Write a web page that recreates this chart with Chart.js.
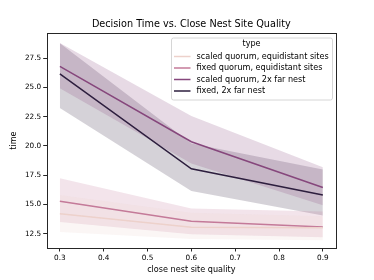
<!DOCTYPE html>
<html>
<head>
<meta charset="utf-8">
<script src="https://cdn.jsdelivr.net/npm/chart.js@4"></script>
<style>
  html, body { margin: 0; padding: 0; background: #fff; }
  #wrap { width: 374px; height: 280px; }
</style>
</head>
<body>
<div id="wrap"><canvas id="chart" width="374" height="280"></canvas></div>
<script>
// x values (close nest site quality)
const quality = [0.3, 0.6, 0.9]
const xTicks = [0.3, 0.4, 0.5, 0.6, 0.7, 0.8, 0.9]
const yTicks = [12.5, 15.0, 17.5, 20.0, 22.5, 25.0, 27.5]

const seriesNames = [
  "scaled quorum, equidistant sites",
  "fixed quorum, equidistant sites",
  "scaled quorum, 2x far nest",
  "fixed, 2x far nest",
]

// mean decision time and confidence band, per series
const scaledEquiMean = [14.2, 13.05, 13.0]
const scaledEquiLow = [12.65, 12.05, 11.95]
const scaledEquiHigh = [15.8, 14.3, 14.0]

const fixedEquiMean = [15.28, 13.57, 13.08]
const fixedEquiLow = [13.5, 12.45, 12.2]
const fixedEquiHigh = [17.25, 14.65, 14.4]

const scaledFarMean = [26.8, 20.36, 16.45]
const scaledFarLow = [24.93, 18.5, 14.94]
const scaledFarHigh = [28.8, 22.55, 18.17]

const fixedFarMean = [26.16, 18.05, 15.8]
const fixedFarLow = [23.25, 16.15, 14.05]
const fixedFarHigh = [28.78, 20.2, 17.98]

const colors = ["#edd1cb", "#c47a99", "#86477c", "#2d1e3e"]
const bandColors = [
  "rgba(237, 209, 203, 0.2)",
  "rgba(196, 122, 153, 0.2)",
  "rgba(134, 71, 124, 0.2)",
  "rgba(45, 30, 62, 0.2)",
]

const allSeries = [
  [scaledEquiMean, scaledEquiLow, scaledEquiHigh],
  [fixedEquiMean, fixedEquiLow, fixedEquiHigh],
  [scaledFarMean, scaledFarLow, scaledFarHigh],
  [fixedFarMean, fixedFarLow, fixedFarHigh],
]

const pts = (arr) => quality.map((q, i) => ({ x: q, y: arr[i] }))

const datasets = []
allSeries.forEach(([mean, low, high], i) => {
  datasets.push({
    label: seriesNames[i],
    data: pts(mean),
    borderColor: colors[i],
    borderWidth: 1.5,
    pointRadius: 0,
    fill: false,
    order: 0,
  })
  datasets.push({
    label: "_low" + i,
    data: pts(low),
    borderWidth: 0,
    borderColor: "transparent",
    pointRadius: 0,
    fill: false,
    order: 1,
  })
  datasets.push({
    label: "_high" + i,
    data: pts(high),
    borderWidth: 0,
    borderColor: "transparent",
    backgroundColor: bandColors[i],
    pointRadius: 0,
    fill: "-1",
    order: 1,
  })
})

const FONT = "'DejaVu Sans', sans-serif"

// axes frame + legend inside plot
const framePlugin = {
  id: "frame",
  afterDraw(chart) {
    const { ctx, chartArea: a } = chart
    ctx.save()
    ctx.strokeStyle = "#262626"
    ctx.lineWidth = 1
    ctx.strokeRect(Math.round(a.left) + 0.5, Math.round(a.top) + 0.5,
      Math.round(a.right - a.left), Math.round(a.bottom - a.top))

    // legend
    const bx = 171, by = 37.5, bw = 161, bh = 62
    ctx.fillStyle = "rgba(255,255,255,0.8)"
    ctx.strokeStyle = "#d6d6d6"
    ctx.beginPath()
    ctx.roundRect(bx + 0.5, by + 0.5, bw, bh, 2)
    ctx.fill()
    ctx.stroke()
    ctx.font = "8.1px " + FONT
    ctx.fillStyle = "#000"
    ctx.textBaseline = "middle"
    ctx.textAlign = "center"
    ctx.fillText("type", bx + bw / 2, by + 6.8)
    ctx.textAlign = "left"
    seriesNames.forEach((name, i) => {
      const y = by + 19 + i * 11.5
      ctx.strokeStyle = colors[i]
      ctx.lineWidth = 1.5
      ctx.beginPath()
      ctx.moveTo(bx + 3, y)
      ctx.lineTo(bx + 19.5, y)
      ctx.stroke()
      ctx.fillText(name, bx + 25.5, y)
    })
    ctx.restore()
  },
}

new Chart(document.getElementById("chart"), {
  type: "line",
  data: { datasets },
  plugins: [framePlugin],
  options: {
    responsive: false,
    animation: false,
    layout: { padding: { left: 0, right: 38, top: 0, bottom: 0 } },
    plugins: {
      legend: { display: false },
      tooltip: { enabled: false },
      title: {
        display: true,
        fullSize: false,
        text: "Decision Time vs. Close Nest Site Quality",
        color: "#000",
        font: { family: FONT, size: 9.7, weight: "normal" },
        padding: { top: 19, bottom: 2.5 },
      },
    },
    scales: {
      x: {
        type: "linear",
        min: 0.27,
        max: 0.93,
        afterBuildTicks: (s) => { s.ticks = xTicks.map((v) => ({ value: v })) },
        afterFit: (s) => { s.height = 32 },
        ticks: {
          callback: (v) => v.toFixed(1),
          color: "#000",
          font: { family: FONT, size: 7.3 },
          padding: 2,
          maxRotation: 0,
        },
        grid: { drawOnChartArea: false, tickLength: 3.5, tickColor: "#262626" },
        border: { display: false },
        title: {
          display: true,
          text: "close nest site quality",
          color: "#000",
          font: { family: FONT, size: 8.1 },
          padding: { top: 0, bottom: 5.4 },
        },
      },
      y: {
        min: 11.28,
        max: 29.64,
        afterBuildTicks: (s) => { s.ticks = yTicks.map((v) => ({ value: v })) },
        afterFit: (s) => { s.width = 46.7 },
        ticks: {
          callback: (v) => v.toFixed(1),
          color: "#000",
          font: { family: FONT, size: 7.3 },
          padding: 2,
        },
        grid: { drawOnChartArea: false, tickLength: 3.5, tickColor: "#262626" },
        border: { display: false },
        title: {
          display: true,
          text: "time",
          color: "#000",
          font: { family: FONT, size: 8.1 },
          padding: { top: 8.6, bottom: 0 },
        },
      },
    },
  },
})
</script>
</body>
</html>
